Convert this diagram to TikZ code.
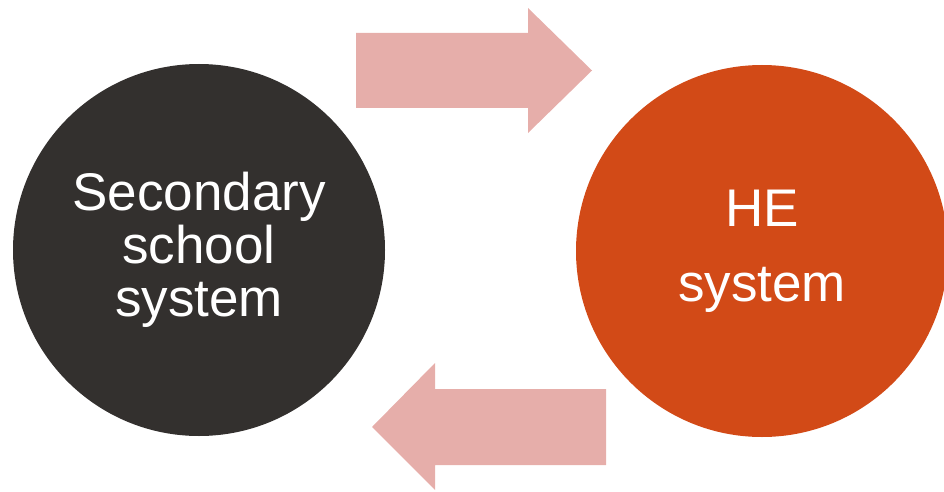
\documentclass[tikz,border=0pt]{standalone}
\usepackage{fontspec}
\setmainfont{Liberation Sans}
\definecolor{schoolgray}{HTML}{33302E}
\definecolor{heorange}{HTML}{D24A17}
\definecolor{flowpink}{HTML}{E6AEAA}

\begin{document}
\begin{tikzpicture}[x=1pt, y=-1pt,
	system/.style={circle, minimum size=372pt, inner sep=0pt, text=white, align=center},
	flow/.style={fill=flowpink}]
	\useasboundingbox (0,0) rectangle (944,492);
	% the two systems
	\node[system, fill=schoolgray, font=\fontsize{53}{53}\selectfont] (school) at (199,250) {Secondary\\school\\system};
	\node[system, fill=heorange, font=\fontsize{53}{75}\selectfont] (he) at (762,251) {HE\\system};
	% block arrows between them
	\fill[flow] (356,33) -- (528,33) -- (528,8) -- (592,70.5) -- (528,133) -- (528,108) -- (356,108) -- cycle;
	\fill[flow] (606,389) -- (435,389) -- (435,363) -- (372,427) -- (435,490) -- (435,465) -- (606,465) -- cycle;
\end{tikzpicture}
\end{document}
